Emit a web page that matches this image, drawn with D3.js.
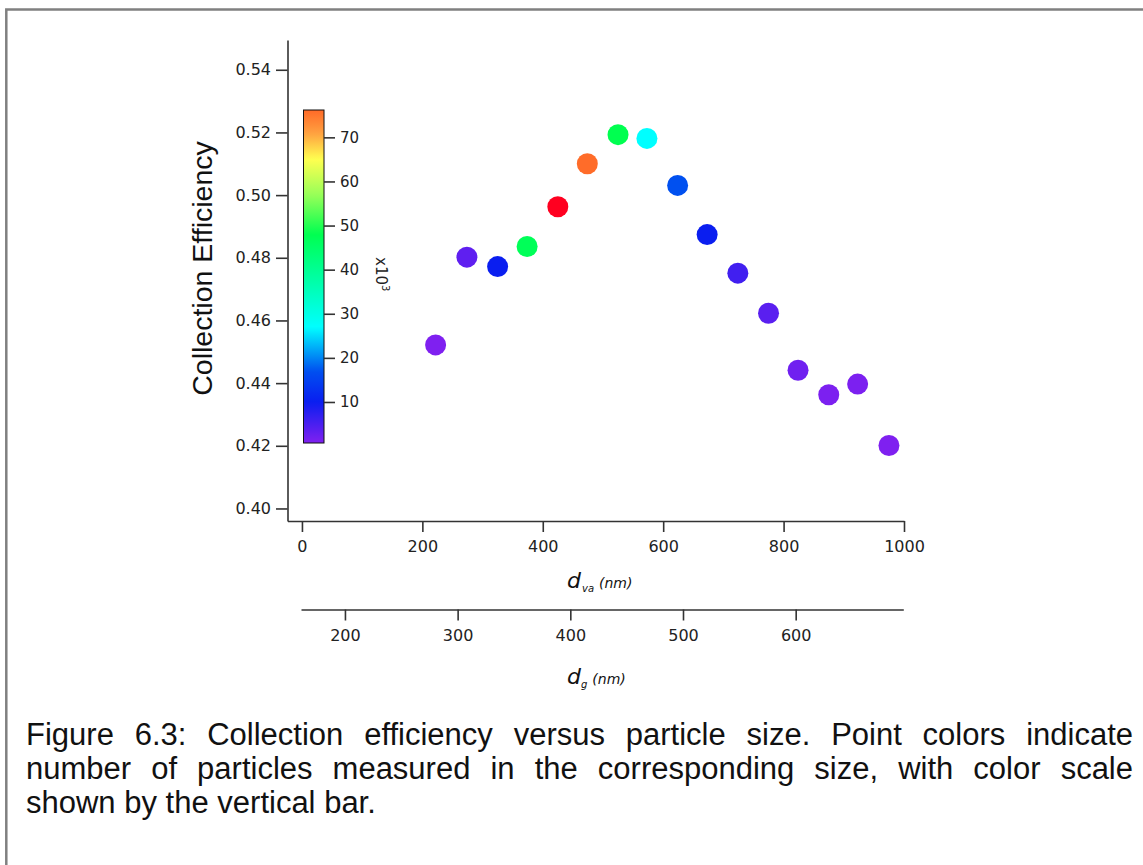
<!DOCTYPE html>
<html>
<head>
<meta charset="utf-8">
<script src="https://cdn.jsdelivr.net/npm/d3@7"></script>
<style>
  html, body { margin: 0; padding: 0; background: #fff; }
  svg { display: block; }
</style>
</head>
<body>
<svg id="chart" width="1143" height="865"></svg>
<script>
// ---- data ----
const dvaValues   = [222, 274, 325, 374, 425, 474, 525, 573, 624, 673, 724, 775, 824, 875, 923, 975];
const ceValues    = [0.4522, 0.4802, 0.4772, 0.4836, 0.4963, 0.5100, 0.5193, 0.5181,
                     0.5031, 0.4874, 0.4751, 0.4623, 0.4441, 0.4363, 0.4397, 0.4201];
const countValues = [0.8, 3.3, 10, 47, 85, 76, 48, 27, 17, 10, 5.7, 3.7, 2, 1, 1, 0.8]; // x10^3
const yTicks  = [0.40, 0.42, 0.44, 0.46, 0.48, 0.50, 0.52, 0.54];
const xTicks  = [0, 200, 400, 600, 800, 1000];
const dgTicks = [200, 300, 400, 500, 600];
const cbTicks = [10, 20, 30, 40, 50, 60, 70];
// colour table (rainbow, purple -> red), values in x10^3
const cStopValues = [0.7, 10, 17, 27, 48, 57, 65, 71, 76.2, 85];
const cStopColors = ["#8020f0", "#0a1ef0", "#0050f0", "#00ffff", "#00ff50",
                     "#98ff58", "#ffff50", "#ffa040", "#ff6a28", "#ff0020"];
const captionLines = [
  "Figure 6.3: Collection efficiency versus particle size. Point colors indicate",
  "number of particles measured in the corresponding size, with color scale",
  "shown by the vertical bar."
];

const svg = d3.select("#chart");
const axisColor = "#333";
const tickFont = "'DejaVu Sans', Verdana, sans-serif";

// frame
svg.append("path")
  .attr("d", "M6.3,870 L6.3,9.5 L1150,9.5")
  .attr("fill", "none").attr("stroke", "#808080").attr("stroke-width", 2.5);

// scales
const x  = d3.scaleLinear().domain([-24, 1000]).range([287.5, 904]);
const y  = d3.scaleLinear().domain([0.396, 0.5495]).range([521, 40]);
const dg = d3.scaleLinear().domain([161, 695.5]).range([301, 903.3]);
const cb = d3.scaleLinear().domain([0.7, 76.2]).range([443, 110]);
const color = d3.scaleLinear().domain(cStopValues).range(cStopColors).clamp(true);

function styleAxis(g, fs) {
  g.selectAll("path.domain").attr("stroke", axisColor).attr("stroke-width", 1.6);
  g.selectAll(".tick line").attr("stroke", axisColor).attr("stroke-width", 1.6);
  g.selectAll(".tick text").attr("fill", "#222")
    .style("font-family", tickFont).style("font-size", fs + "px");
}

// y axis
svg.append("g").attr("transform", "translate(287.5,0)")
  .call(d3.axisLeft(y).tickValues(yTicks).tickFormat(d3.format(".2f"))
        .tickSize(11.5).tickSizeOuter(0).tickPadding(5))
  .call(g => styleAxis(g, 16));

// x axis (d_va)
svg.append("g").attr("transform", "translate(0,521)")
  .call(d3.axisBottom(x).tickValues(xTicks).tickFormat(d3.format("d"))
        .tickSize(11).tickSizeOuter(0).tickPadding(9))
  .call(g => styleAxis(g, 16));

// second x axis (d_g)
svg.append("g").attr("transform", "translate(0,609.5)")
  .call(d3.axisBottom(dg).tickValues(dgTicks).tickFormat(d3.format("d"))
        .tickSize(11).tickSizeOuter(0).tickPadding(9))
  .call(g => styleAxis(g, 16));

// colour bar
const defs = svg.append("defs");
const grad = defs.append("linearGradient").attr("id", "cbgrad")
  .attr("x1", 0).attr("y1", 1).attr("x2", 0).attr("y2", 0);
const nStops = 80;
d3.range(nStops + 1).forEach(i => {
  const v = cb.domain()[0] + (cb.domain()[1] - cb.domain()[0]) * i / nStops;
  grad.append("stop").attr("offset", (i / nStops)).attr("stop-color", color(v));
});
svg.append("rect")
  .attr("x", 303.5).attr("y", cb.range()[1])
  .attr("width", 20.5).attr("height", cb.range()[0] - cb.range()[1])
  .attr("fill", "url(#cbgrad)").attr("stroke", "#111").attr("stroke-width", 1);
svg.append("g").attr("transform", "translate(324,0)")
  .call(d3.axisRight(cb).tickValues(cbTicks).tickSize(11).tickSizeOuter(0).tickPadding(5))
  .call(g => { g.select("path.domain").remove(); styleAxis(g, 15); });

// x10^3 label (rotated)
const mult = svg.append("text")
  .attr("transform", "translate(376,257) rotate(90)")
  .attr("fill", "#222").style("font-family", tickFont).style("font-size", "15px");
mult.append("tspan").text("x10");
mult.append("tspan").attr("dy", -6).style("font-size", "10px").text("3");

// points
svg.append("g").selectAll("circle")
  .data(dvaValues.map((d, i) => ({ d, ce: ceValues[i], n: countValues[i] })))
  .join("circle")
  .attr("cx", p => x(p.d)).attr("cy", p => y(p.ce)).attr("r", 10.5)
  .attr("fill", p => color(p.n));

// y title
svg.append("text")
  .attr("transform", "translate(212,268.5) rotate(-90)")
  .attr("text-anchor", "middle").attr("fill", "#111")
  .style("font-family", "'Liberation Sans', Arial, sans-serif").style("font-size", "28.5px")
  .text("Collection Efficiency");

// axis titles
function axisTitle(xPos, yPos, sub, subDx) {
  const t = svg.append("text").attr("x", xPos).attr("y", yPos)
    .attr("fill", "#111").style("font-family", tickFont).style("font-style", "italic");
  t.append("tspan").style("font-size", "22px").text("d");
  t.append("tspan").attr("dx", subDx).attr("dy", 4).style("font-size", "10px").text(sub);
  t.append("tspan").attr("dx", 5).attr("dy", -4).style("font-size", "14px").text("(nm)");
}
axisTitle(567, 588, "va", 1);
axisTitle(567, 684, "g", 0);

// caption (justified)
const capFont = "'Liberation Sans', Arial, sans-serif";
const capSize = 31;
const capLeft = 26, capRight = 1133;
const capBase = [745, 779, 813];
captionLines.forEach((line, li) => {
  const words = line.split(" ");
  const g = svg.append("g");
  const nodes = words.map(w => g.append("text")
    .attr("y", capBase[li]).attr("fill", "#111")
    .style("font-family", capFont).style("font-size", capSize + "px").text(w));
  const widths = nodes.map(n => n.node().getComputedTextLength());
  const total = d3.sum(widths);
  const justify = li < captionLines.length - 1;
  const space = nodes[0].node().getComputedTextLength() > 0 ? capSize * 0.278 : 8;
  const gap = justify ? (capRight - capLeft - total) / (words.length - 1) : space;
  let cx = capLeft;
  nodes.forEach((n, i) => { n.attr("x", cx); cx += widths[i] + gap; });
});
</script>
</body>
</html>
